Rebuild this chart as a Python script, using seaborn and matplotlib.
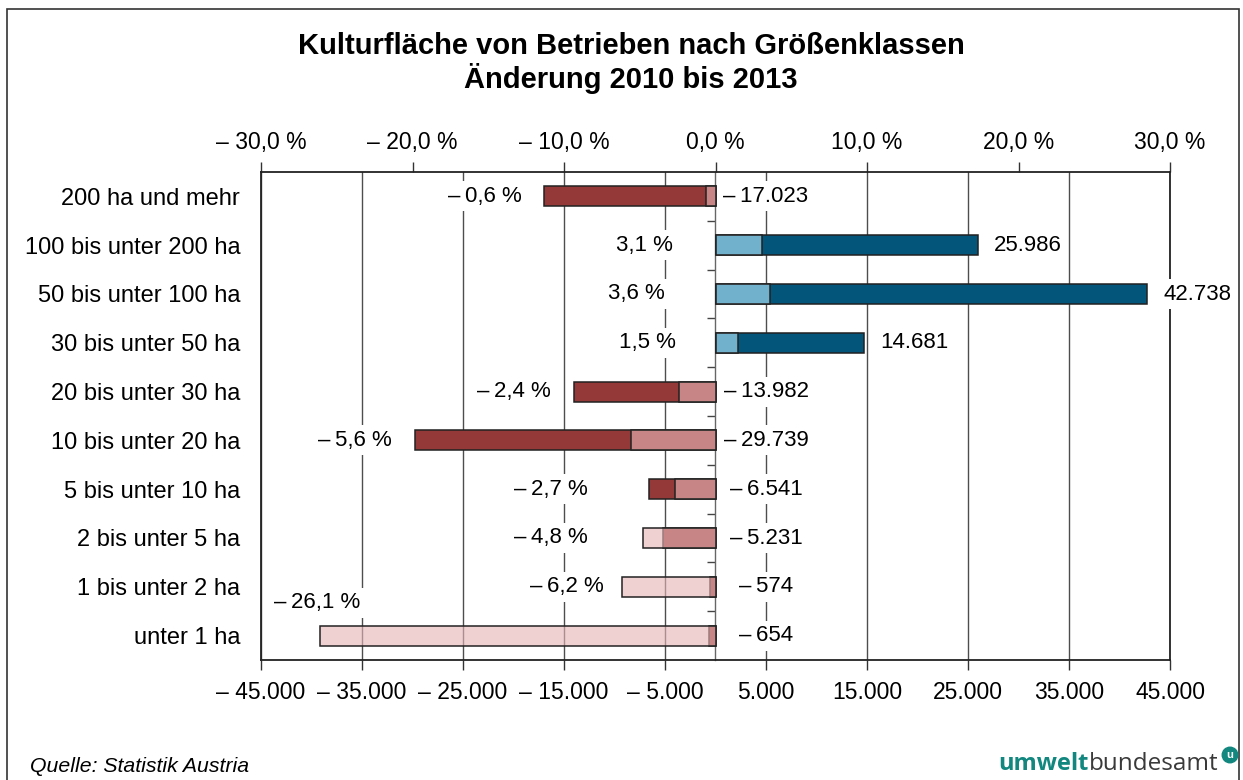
import matplotlib
matplotlib.use("Agg")
import matplotlib.pyplot as plt
import seaborn as sns
import pandas as pd
import numpy as np
from matplotlib.patches import Rectangle

# ---------------- data ----------------
categories = ["200 ha und mehr", "100 bis unter 200 ha", "50 bis unter 100 ha",
              "30 bis unter 50 ha", "20 bis unter 30 ha", "10 bis unter 20 ha",
              "5 bis unter 10 ha", "2 bis unter 5 ha", "1 bis unter 2 ha", "unter 1 ha"]
change_ha = [-17023, 25986, 42738, 14681, -13982, -29739, -6541, -5231, -574, -654]
change_pct = [-0.6, 3.1, 3.6, 1.5, -2.4, -5.6, -2.7, -4.8, -6.2, -26.1]
ha_ticks = [-45000, -35000, -25000, -15000, -5000, 5000, 15000, 25000, 35000, 45000]
pct_ticks = [-30, -20, -10, 0, 10, 20, 30]

# layout of the percent labels (x in ha units of the bottom axis, y offset in rows)
pct_label_x = [-22800, -7040, -7830, -6740, -19920, -35680, -16250, -16250, -14670, -39440]
pct_label_dy = [0, 0, 0, 0, 0, 0, 0, 0, 0, -0.67]

# ---------------- style ----------------
sns.set_theme(style="white")
plt.rcParams["font.family"] = ["Liberation Sans", "DejaVu Sans"]
plt.rcParams["text.color"] = "black"
plt.rcParams["axes.labelcolor"] = "black"
plt.rcParams["xtick.color"] = "black"
plt.rcParams["ytick.color"] = "black"

W, H = 1243, 780
fig = plt.figure(figsize=(W / 100, H / 100), dpi=100)
ax = fig.add_axes([261 / W, 1 - 660 / H, (1170 - 261) / W, (660 - 172) / H])
ax2 = ax.twiny()

DARK_NEG, DARK_POS = "#953838", "#04557a"
LIGHT_NEG, LIGHT_POS = (0.906, 0.710, 0.718), (0.71, 0.92, 1.0)
ALPHA = 0.62
EDGE = "#222222"
FS_TICK = 16.5
FS_DATA = 16


def fmt_ha(v, sep=" "):
    s = f"{abs(v):,}".replace(",", ".")
    return ("\u2013" + sep + s) if v < 0 else s


def fmt_pct(p, sep=" "):
    s = f"{abs(p):.1f}".replace(".", ",") + " %"
    return ("\u2013" + sep + s) if p < 0 else s


df = pd.DataFrame({"cat": categories, "ha": change_ha, "pct": change_pct})
dark_pal = {c: (DARK_NEG if v < 0 else DARK_POS) for c, v in zip(categories, change_ha)}
light_pal = {c: (LIGHT_NEG if p < 0 else LIGHT_POS) for c, p in zip(categories, change_pct)}

# absolute change (bottom axis, ha)
sns.barplot(data=df, x="ha", y="cat", hue="cat", palette=dark_pal, width=0.41,
            saturation=1, edgecolor=EDGE, linewidth=1.1, errorbar=None,
            legend=False, ax=ax)
# relative change (top axis, %), translucent overlay
sns.barplot(data=df, x="pct", y="cat", hue="cat", palette=light_pal, width=0.41,
            saturation=1, edgecolor=EDGE, linewidth=1.1, errorbar=None,
            legend=False, ax=ax2)
for p in ax2.patches:
    r, g, b, _ = p.get_facecolor()
    p.set_facecolor((r, g, b, ALPHA))
    p.set_edgecolor(EDGE)

ax.set_xlim(-45000, 45000)
ax2.set_xlim(-30, 30)
ax.set_ylim(len(categories) - 0.5, -0.5)

for a in (ax, ax2):
    a.set_xlabel("")
    a.set_ylabel("")

ax.set_xticks(ha_ticks)
ax.set_xticklabels([fmt_ha(t) for t in ha_ticks])
ax2.set_xticks(pct_ticks)
ax2.set_xticklabels([fmt_pct(t) for t in pct_ticks])
ax.set_yticks(range(len(categories)))
ax.set_yticklabels(categories)

ax.tick_params(axis="x", direction="out", length=7, width=1, color="#333",
               labelsize=FS_TICK, pad=8, bottom=True, labelcolor="black")
ax2.tick_params(axis="x", direction="out", length=7, width=1, color="#333",
                labelsize=FS_TICK, pad=6, top=True, labelcolor="black")
ax.tick_params(axis="y", length=0, pad=15, labelsize=17, labelcolor="black")

ax.grid(axis="x", color="#4d4d4d", linewidth=1.0)
ax.grid(axis="y", visible=False)
ax2.grid(False)
ax.set_axisbelow(True)

for s in ["left", "right", "bottom"]:
    ax.spines[s].set_color("#222")
    ax.spines[s].set_linewidth(1.3)
ax.spines["top"].set_visible(False)
for s in ["left", "right", "bottom"]:
    ax2.spines[s].set_visible(False)
ax2.spines["top"].set_color("#222")
ax2.spines["top"].set_linewidth(1.3)

# category axis at zero with separator ticks
sec = ax.secondary_yaxis(0.5)
sec.set_alignment("left")
sec.set_yticks(np.arange(0.5, len(categories) - 1, 1.0))
sec.set_yticklabels([])
sec.tick_params(axis="y", direction="out", length=6, width=1, color="#444")
sec.spines["left"].set_color("#666")
sec.spines["left"].set_linewidth(1.0)

THIN = "\u2009"
box = dict(boxstyle="square,pad=0.2", fc="white", ec="none")
for i, v in enumerate(change_ha):
    if v < 0:
        ax.text(5000, i, fmt_ha(v, THIN), ha="center", va="center", fontsize=FS_DATA,
                bbox=box, zorder=6)
    else:
        ax.text(v + 1600, i, fmt_ha(v, THIN), ha="left", va="center", fontsize=FS_DATA,
                bbox=box, zorder=6)

for i, p in enumerate(change_pct):
    ax.text(pct_label_x[i], i + pct_label_dy[i], fmt_pct(p, THIN), ha="center",
            va="center", fontsize=FS_DATA, bbox=box, zorder=6)

# titles and footer
fig.text(631 / W, 1 - 46 / H, "Kulturfläche von Betrieben nach Größenklassen",
         ha="center", va="center", fontsize=21, fontweight="bold")
fig.text(631 / W, 1 - 79 / H, "Änderung 2010 bis 2013",
         ha="center", va="center", fontsize=21, fontweight="bold")
fig.text(30 / W, 1 - 767 / H, "Quelle: Statistik Austria", ha="left", va="center",
         fontsize=15.3, style="italic")

TEAL = "#12877f"
fig.text(1089 / W, 1 - 770 / H, "umwelt", ha="right", va="baseline", fontsize=17,
         fontweight="bold", color=TEAL, family=["Open Sans", "DejaVu Sans"])
fig.text(1089 / W, 1 - 770 / H, "bundesamt", ha="left", va="baseline", fontsize=17.5,
         color="#3a3a3a", family=["Open Sans", "DejaVu Sans"])
fig.text(1230 / W, 1 - 755 / H, "u", ha="center", va="center", fontsize=8,
         fontweight="bold", color="white",
         bbox=dict(boxstyle="circle,pad=0.25", fc=TEAL, ec=TEAL))

fig.add_artist(Rectangle((7 / W, -0.1), (1239 - 7) / W, (1 - 9 / H) + 0.1,
                         transform=fig.transFigure, fill=False, ec="#333",
                         lw=1.2))

fig.savefig("out.png", dpi=100)
